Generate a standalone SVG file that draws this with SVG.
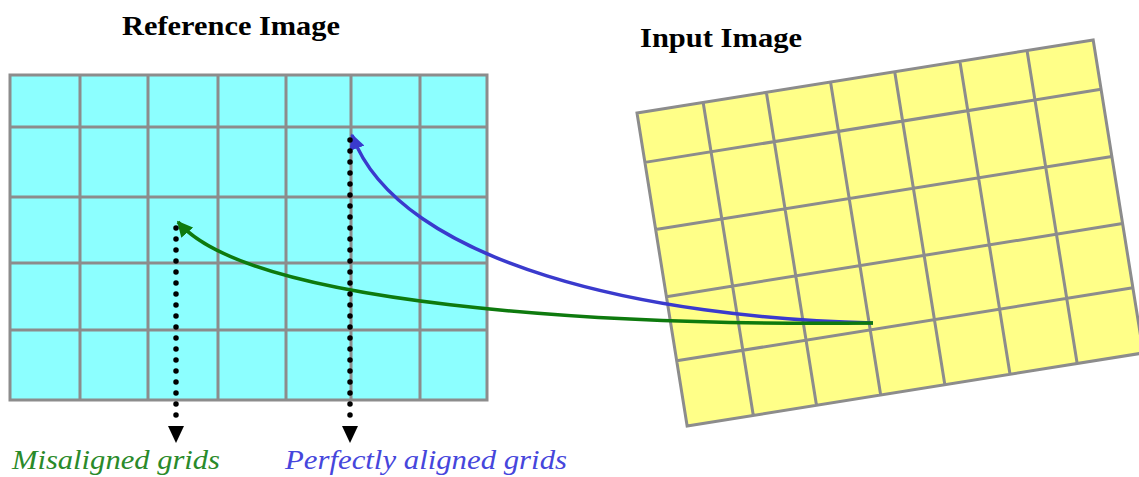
<svg xmlns="http://www.w3.org/2000/svg" width="1139" height="477" viewBox="0 0 1139 477">
<style>
.grid{stroke:#8c8c8c;stroke-width:3;fill:none}
.title{font-family:"Liberation Serif","Times New Roman",serif;font-weight:bold;font-size:28px;fill:#000}
.lbl{font-family:"Liberation Serif","Times New Roman",serif;font-style:italic;font-size:28px}
.dots{stroke:#000;stroke-width:5.5;stroke-linecap:round;stroke-dasharray:0 11;fill:none}
</style>
<defs>
<marker id="ahG" viewBox="0 0 10 10" refX="9" refY="5" markerWidth="4.5" markerHeight="4.5" orient="auto" markerUnits="strokeWidth"><path d="M0,0 L10,5 L0,10 z" fill="#0e7a0e"/></marker>
<marker id="ahB" viewBox="0 0 10 10" refX="9" refY="5" markerWidth="4.5" markerHeight="4.5" orient="auto" markerUnits="strokeWidth"><path d="M0,0 L10,5 L0,10 z" fill="#3a3acd"/></marker>
</defs>
<rect width="1139" height="477" fill="#fff"/>
<g id="reference-grid">
<rect x="10" y="75" width="477" height="325" fill="#8cffff"/>
<path class="grid" d="M10,75H487V400H10Z M80,75V400 M148,75V400 M218,75V400 M286,75V400 M351,75V400 M420,75V400 M10,127H487 M10,197H487 M10,263H487 M10,330H487"/>
</g>
<g id="input-grid" transform="translate(637,113) rotate(-9.1)">
<rect x="0" y="0" width="462" height="317" fill="#ffff88"/>
<path class="grid" d="M0,0H462V317H0Z M67,0V317 M131,0V317 M196,0V317 M261,0V317 M327,0V317 M395,0V317 M0,50H462 M0,118H462 M0,186H462 M0,251H462"/>
</g>
<g id="titles">
<text class="title" x="122" y="35" textLength="218" lengthAdjust="spacingAndGlyphs">Reference Image</text>
<text class="title" x="640" y="47" textLength="162" lengthAdjust="spacingAndGlyphs">Input Image</text>
</g>
<g id="connectors">
<path d="M873,323 C650,318 400,265 352,135" stroke="#3a3acd" stroke-width="3.5" fill="none" marker-end="url(#ahB)"/>
<path d="M873,323 C600,326 250,305 178,222" stroke="#0e7a0e" stroke-width="3.5" fill="none" marker-end="url(#ahG)"/>
<path class="dots" d="M176,228V422"/>
<path d="M168,426H184L176,443Z" fill="#000"/>
<path class="dots" d="M350,140V422"/>
<path d="M342,426H358L350,443Z" fill="#000"/>
</g>
<g id="labels">
<text class="lbl" x="12" y="469" fill="#2a8a2a" textLength="208" lengthAdjust="spacingAndGlyphs">Misaligned grids</text>
<text class="lbl" x="285" y="469" fill="#4646dc" textLength="282" lengthAdjust="spacingAndGlyphs">Perfectly aligned grids</text>
</g>
</svg>
